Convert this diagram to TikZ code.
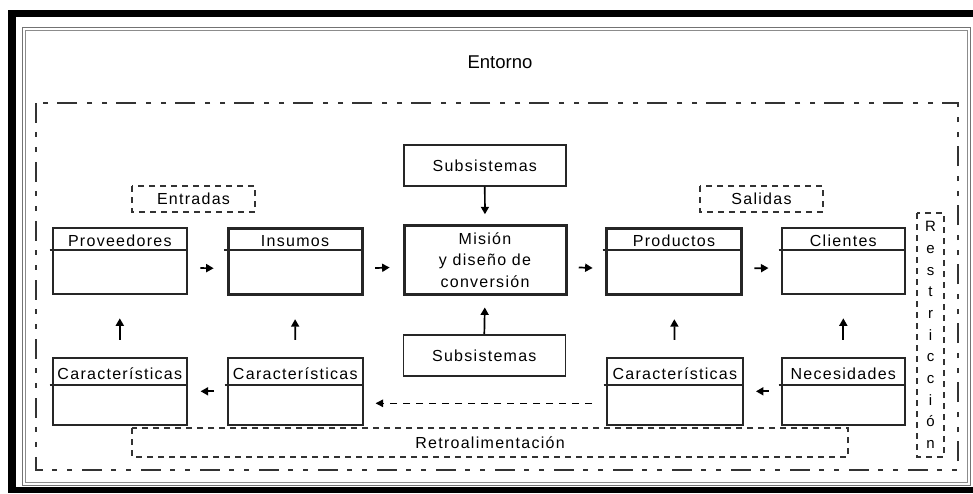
\documentclass[tikz,border=0pt]{standalone}
\usepackage{fontspec}
\setmainfont{Liberation Sans}
\newfontfamily\lblfont[LetterSpace=8]{Liberation Sans}
\usetikzlibrary{calc,arrows.meta}
\begin{document}
\begin{tikzpicture}[x=1pt,y=-1pt,
  box/.style={draw=black!85,line width=1.6pt,anchor=north west,inner sep=0pt,
    minimum width=#1},
  thickbox/.style={box=#1,line width=3pt},
  lbl/.style={font=\lblfont\fontsize{16}{18}\selectfont,inner sep=0pt},
  hdr/.style={draw=black!85,line width=1.6pt},
  arr/.style={line width=1.7pt,-{Triangle[length=7.5pt,width=8pt]}},
  fbarr/.style={line width=1.2pt,dash pattern=on 7pt off 6pt,
    -{Triangle[length=7.5pt,width=7.5pt]}},
  dbox/.style={draw=black!80,line width=1.3pt,dash pattern=on 6pt off 5pt},
  env/.style={draw=black!80,line width=1.3pt,
    dash pattern=on 20pt off 9pt on 5pt off 10pt on 5pt off 10pt}]
\useasboundingbox (0,0) rectangle (973,493);
% outer black frame and thin inner frame
\fill[black] (8,10) rectangle (973,493);
\fill[white] (16,17) rectangle (973,487);
\draw[black!55,line width=1pt] (22,27) rectangle (970.5,485);
\draw[black!45,line width=0.8pt] (25.5,30) rectangle (967.5,482);
\node[font=\fontsize{18.5}{20}\selectfont,inner sep=0pt] (entorno) at (500,62) {Entorno};
% system boundary
\draw[env] (36,103) rectangle (958,470);
% group labels
\draw[dbox] (132,186) rectangle (255,212);
\node[lbl] (entradas) at (193.5,199) {Entradas};
\draw[dbox] (700,186) rectangle (823,212);
\node[lbl] (salidas) at (761.5,199) {Salidas};
\draw[dbox] (132,428) rectangle (848,457);
\node[lbl] (retro) at (490,443) {Retroalimentación};
\draw[dbox] (917,213) rectangle (944,457);
\node[lbl,align=center,font=\lblfont\fontsize{15}{21.7}\selectfont] (restr) at (930.5,335)
  {R\\e\\s\\t\\r\\i\\c\\c\\i\\ó\\n};
% top row
\node[box=134pt,minimum height=66pt] (prov) at (52,227) {};
\node[thickbox=134pt,minimum height=66pt] (ins) at (226.5,227) {};
\node[thickbox=162pt,minimum height=69pt] (mis) at (402.5,224) {};
\node[thickbox=135pt,minimum height=66pt] (prod) at (605,227) {};
\node[box=123pt,minimum height=66pt] (cli) at (781,227) {};
\foreach \n in {prov,ins,prod,cli}
  \draw[hdr] ($(\n.north west)+(-2.5,23)$) -- ($(\n.north east)+(0,23)$);
\node[lbl,anchor=base] (tprov) at ($(prov.north)+(0,19)$) {Proveedores};
\node[lbl,anchor=base] (tins) at ($(ins.north)+(0,19)$) {Insumos};
\node[lbl,anchor=base] (tprod) at ($(prod.north)+(0,19)$) {Productos};
\node[lbl,anchor=base] (tcli) at ($(cli.north)+(0,19)$) {Clientes};
\node[lbl,align=center,font=\lblfont\fontsize{16}{21.5}\selectfont] (tmis) at (mis.center)
  {Misión\\y diseño de\\conversión};
% subsystems
\node[box=162pt,minimum height=41pt] (suba) at (403,144) {};
\node[lbl] (tsuba) at (suba.center) {Subsistemas};
\node[box=162pt,minimum height=41pt] (subb) at (402.5,334) {};
\node[lbl] (tsubb) at (subb.center) {Subsistemas};
% bottom row
\node[box=134pt,minimum height=67pt] (cara) at (52,357) {};
\node[box=135pt,minimum height=67pt] (carb) at (227,357) {};
\node[box=136pt,minimum height=67pt] (carc) at (606,357) {};
\node[box=123pt,minimum height=67pt] (nec) at (781,357) {};
\foreach \n in {cara,carb,carc,nec}
  \draw[hdr] ($(\n.north west)+(-2.5,28)$) -- ($(\n.north east)+(0,28)$);
\node[lbl,anchor=base] (tcara) at ($(cara.north)+(0,22)$) {Características};
\node[lbl,anchor=base] (tcarb) at ($(carb.north)+(0,22)$) {Características};
\node[lbl,anchor=base] (tcarc) at ($(carc.north)+(0,22)$) {Características};
\node[lbl,anchor=base] (tnec) at ($(nec.north)+(0,22)$) {Necesidades};
% flow arrows
\draw[arr] ($(prov.east)!0.33!(ins.west)+(0,7)$) -- ($(prov.east)!0.67!(ins.west)+(0,7)$);
\draw[arr] ($(ins.east)!0.3!(mis.west)+(0,7)$) -- ($(ins.east)!0.67!(mis.west)+(0,7)$);
\draw[arr] ($(mis.east)!0.3!(prod.west)+(0,7)$) -- ($(mis.east)!0.67!(prod.west)+(0,7)$);
\draw[arr] ($(prod.east)!0.3!(cli.west)+(0,7)$) -- ($(prod.east)!0.67!(cli.west)+(0,7)$);
\draw[arr] ($(carb.west)!0.33!(cara.east)$) -- ($(carb.west)!0.67!(cara.east)$);
\draw[arr] ($(nec.west)!0.33!(carc.east)$) -- ($(nec.west)!0.67!(carc.east)$);
\draw[arr] ($(cara.north)!0.28!(prov.south)$) -- ($(cara.north)!0.62!(prov.south)$);
\draw[arr] ($(carb.north)!0.28!(ins.south)$) -- ($(carb.north)!0.62!(ins.south)$);
\draw[arr] ($(carc.north)!0.28!(prod.south)$) -- ($(carc.north)!0.62!(prod.south)$);
\draw[arr] ($(nec.north)!0.28!(cli.south)$) -- ($(nec.north)!0.62!(cli.south)$);
\draw[arr] (suba.south) -- ($(suba.south)!0.74!(mis.north)$);
\draw[arr] (subb.north) -- ($(subb.north)!0.7!(mis.south)$);
% feedback
\coordinate (fbs) at ($(carc.west)+(-14,12)$);
\coordinate (fbe) at ($(carb.east)+(12,12)$);
\draw[fbarr] (fbs) -- (fbe);
\end{tikzpicture}
\end{document}
